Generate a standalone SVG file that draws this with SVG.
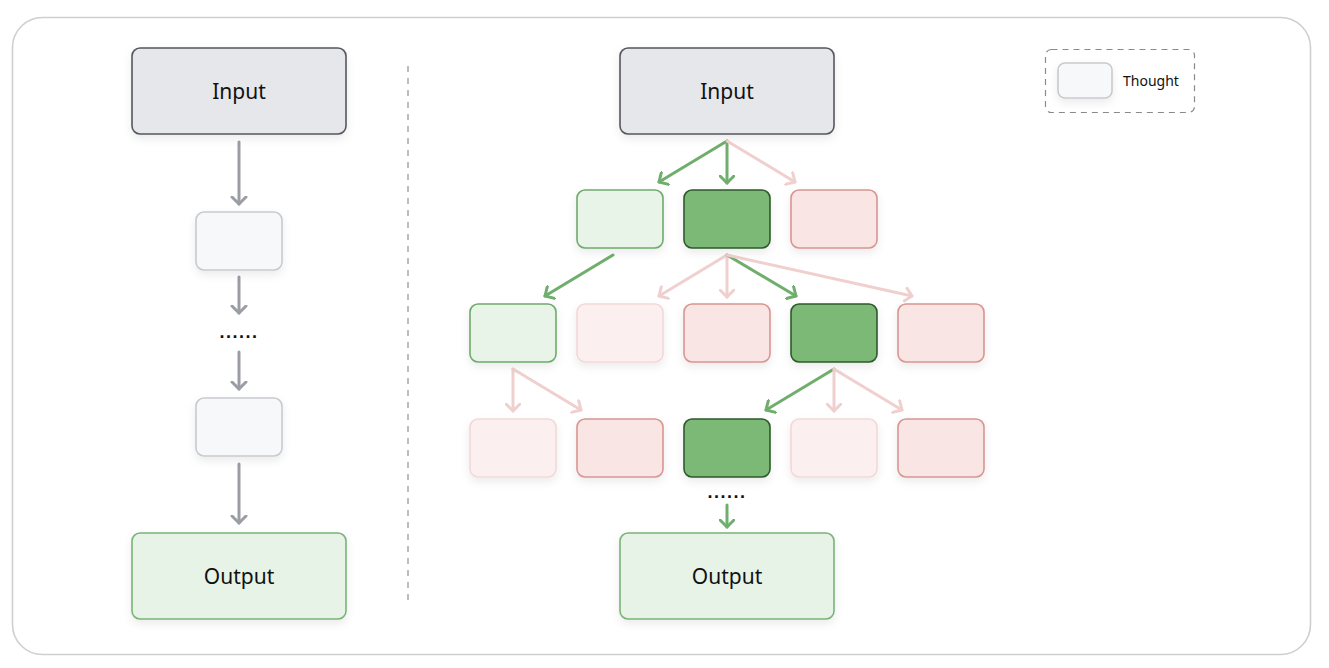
<svg xmlns="http://www.w3.org/2000/svg" width="1329" height="668" viewBox="0 0 1329 668">
<style>
.lbl{font-family:"Noto Sans","Liberation Sans",sans-serif;font-size:21px;fill:#111;text-anchor:middle;dominant-baseline:central}
.io{fill:#e6e7eb;stroke:#55575e;stroke-width:1.6}
.out{fill:#e8f3e8;stroke:#78b475;stroke-width:1.6}
.th{fill:#f7f8fa;stroke:#c8cacf;stroke-width:1.6}
.lg{fill:#e9f4e9;stroke:#6eaa6b;stroke-width:1.6}
.dg{fill:#7bb977;stroke:#2f5a2d;stroke-width:1.6}
.pk{fill:#f8e5e4;stroke:#d99591;stroke-width:1.6}
.pp{fill:#fbf0ef;stroke:#f2d9d8;stroke-width:1.6}
.dots{font-family:"Liberation Sans",sans-serif;font-size:18px;font-weight:bold;text-anchor:middle;fill:#111;letter-spacing:1.5px}
.ag{stroke:#9b9da4;stroke-width:3;fill:none;marker-end:url(#mg)}
.agr{stroke:#6fae6c;stroke-width:3;fill:none;marker-end:url(#mgr)}
.apk{stroke:#f0d0cf;stroke-width:3;fill:none;marker-end:url(#mpk)}
</style>
<defs>
<filter id="sh" x="-20%" y="-20%" width="140%" height="150%">
<feDropShadow dx="0" dy="4" stdDeviation="4" flood-color="#000" flood-opacity="0.08"/>
</filter>
<marker id="mg" markerWidth="16" markerHeight="18" refX="8" refY="8" orient="auto" markerUnits="userSpaceOnUse" viewBox="0 0 16 16"><path d="M1,1 L8,8 L1,15" fill="none" stroke="#9b9da4" stroke-width="3" stroke-linecap="round" stroke-linejoin="round"/></marker>
<marker id="mgr" markerWidth="16" markerHeight="16" refX="8" refY="8" orient="auto" markerUnits="userSpaceOnUse" viewBox="0 0 16 16"><path d="M1,1 L8,8 L1,15" fill="none" stroke="#6fae6c" stroke-width="3" stroke-linecap="round" stroke-linejoin="round"/></marker>
<marker id="mpk" markerWidth="16" markerHeight="16" refX="8" refY="8" orient="auto" markerUnits="userSpaceOnUse" viewBox="0 0 16 16"><path d="M1,1 L8,8 L1,15" fill="none" stroke="#f0d0cf" stroke-width="3" stroke-linecap="round" stroke-linejoin="round"/></marker>
</defs>
<rect x="0" y="0" width="1329" height="668" fill="#fff"/>
<rect x="12.5" y="17.5" width="1298" height="637" rx="30" fill="#fff" stroke="#cfcfcf" stroke-width="1.6"/>
<line x1="408" y1="66" x2="408" y2="602" stroke="#9a9a9a" stroke-width="1.3" stroke-dasharray="6,6"/>

<g id="connectors" stroke-linecap="round">
<line class="ag" x1="239" y1="142" x2="239" y2="204"/>
<line class="ag" x1="239" y1="277" x2="239" y2="313"/>
<line class="ag" x1="239" y1="352" x2="239" y2="389"/>
<line class="ag" x1="239" y1="464" x2="239" y2="523"/>
<line class="agr" x1="727" y1="141" x2="659" y2="182"/>
<line class="agr" x1="727" y1="141" x2="727" y2="183"/>
<line class="apk" x1="727" y1="141" x2="795" y2="182"/>
<line class="agr" x1="613" y1="255" x2="545" y2="296"/>
<line class="apk" x1="727" y1="255" x2="659" y2="296"/>
<line class="apk" x1="727" y1="255" x2="727" y2="297"/>
<line class="agr" x1="727" y1="255" x2="796" y2="296"/>
<line class="apk" x1="727" y1="255" x2="912" y2="296"/>
<line class="apk" x1="513" y1="369" x2="513" y2="411"/>
<line class="apk" x1="513" y1="369" x2="581" y2="410"/>
<line class="agr" x1="834" y1="369" x2="766" y2="410"/>
<line class="apk" x1="834" y1="369" x2="834" y2="411"/>
<line class="apk" x1="834" y1="369" x2="902" y2="410"/>
<line class="agr" x1="727" y1="505" x2="727" y2="527"/>
</g>

<g id="left-input"><rect class="io" x="132" y="48" width="214" height="86" rx="8" filter="url(#sh)"/><text class="lbl" x="239" y="91">Input</text></g>
<g id="left-thought-1"><rect class="th" x="196" y="212" width="86" height="58" rx="8" filter="url(#sh)"/></g>
<g id="left-dots"><text class="dots" x="239" y="338">......</text></g>
<g id="left-thought-2"><rect class="th" x="196" y="398" width="86" height="58" rx="8" filter="url(#sh)"/></g>
<g id="left-output"><rect class="out" x="132" y="533" width="214" height="86" rx="8" filter="url(#sh)"/><text class="lbl" x="239" y="576">Output</text></g>

<g id="right-input"><rect class="io" x="620" y="48" width="214" height="86" rx="8" filter="url(#sh)"/><text class="lbl" x="727" y="91">Input</text></g>
<g id="r1a"><rect class="lg" x="577" y="190" width="86" height="58" rx="8" filter="url(#sh)"/></g>
<g id="r1b"><rect class="dg" x="684" y="190" width="86" height="58" rx="8" filter="url(#sh)"/></g>
<g id="r1c"><rect class="pk" x="791" y="190" width="86" height="58" rx="8" filter="url(#sh)"/></g>
<g id="r2a"><rect class="lg" x="470" y="304" width="86" height="58" rx="8" filter="url(#sh)"/></g>
<g id="r2b"><rect class="pp" x="577" y="304" width="86" height="58" rx="8" filter="url(#sh)"/></g>
<g id="r2c"><rect class="pk" x="684" y="304" width="86" height="58" rx="8" filter="url(#sh)"/></g>
<g id="r2d"><rect class="dg" x="791" y="304" width="86" height="58" rx="8" filter="url(#sh)"/></g>
<g id="r2e"><rect class="pk" x="898" y="304" width="86" height="58" rx="8" filter="url(#sh)"/></g>
<g id="r3a"><rect class="pp" x="470" y="419" width="86" height="58" rx="8" filter="url(#sh)"/></g>
<g id="r3b"><rect class="pk" x="577" y="419" width="86" height="58" rx="8" filter="url(#sh)"/></g>
<g id="r3c"><rect class="dg" x="684" y="419" width="86" height="58" rx="8" filter="url(#sh)"/></g>
<g id="r3d"><rect class="pp" x="791" y="419" width="86" height="58" rx="8" filter="url(#sh)"/></g>
<g id="r3e"><rect class="pk" x="898" y="419" width="86" height="58" rx="8" filter="url(#sh)"/></g>
<g id="right-dots"><text class="dots" x="727" y="498">......</text></g>
<g id="right-output"><rect class="out" x="620" y="533" width="214" height="86" rx="8" filter="url(#sh)"/><text class="lbl" x="727" y="576">Output</text></g>

<g id="legend">
<rect x="1045.5" y="49.5" width="149" height="63" rx="6" fill="none" stroke="#8a8a8a" stroke-width="1.2" stroke-dasharray="6,5"/>
<rect class="th" x="1058" y="63" width="54" height="35" rx="7" filter="url(#sh)"/>
<text x="1123" y="80" font-family="Noto Sans,Liberation Sans,sans-serif" font-size="14" fill="#111" dominant-baseline="central">Thought</text>
</g>
</svg>
